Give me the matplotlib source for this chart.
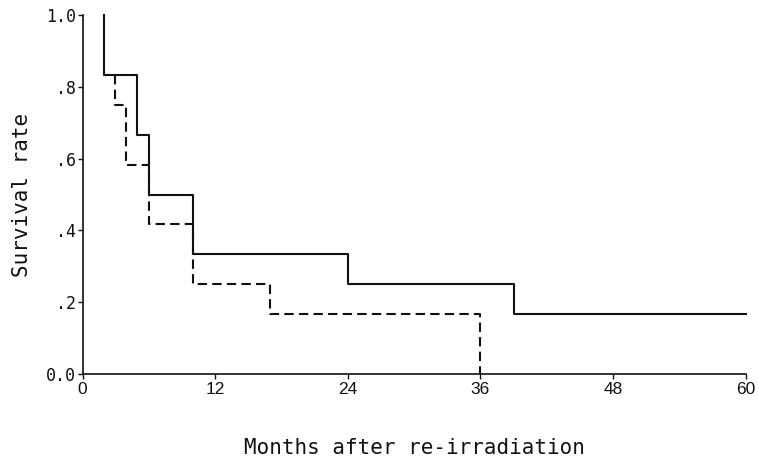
import numpy as np
import matplotlib
matplotlib.use("Agg")
import matplotlib.pyplot as plt

# ── survival curves (months, survival rate) ─────────────────────────────
solid_t = [1.9, 1.9, 4.9, 4.9, 6.0, 6.0, 10.0, 10.0, 24.0, 24.0, 39.0, 39.0, 60.0]
solid_s = [1.0, 0.833, 0.833, 0.667, 0.667, 0.5, 0.5, 0.333, 0.333, 0.25, 0.25, 0.167, 0.167]

dash_t = [2.9, 2.9, 3.9, 3.9, 6.0, 6.0, 10.0, 10.0, 17.0, 17.0, 36.0, 36.0]
dash_s = [0.833, 0.75, 0.75, 0.583, 0.583, 0.417, 0.417, 0.25, 0.25, 0.167, 0.167, 0.0]

x_ticks = [0, 12, 24, 36, 48, 60]
y_ticks = [0.0, 0.2, 0.4, 0.6, 0.8, 1.0]
y_tick_labels = ["0.0", ".2", ".4", ".6", ".8", "1.0"]

MONO = "DejaVu Sans Mono"
ink = "#111111"

fig = plt.figure(figsize=(7.59, 4.62), dpi=100)
ax = fig.add_axes([0.1087, 0.1905, 0.8738, 0.777])

ax.plot(solid_t, solid_s, color=ink, lw=1.5, clip_on=False)
ax.plot(dash_t, dash_s, color=ink, lw=1.5, dashes=(4.5, 2.5), clip_on=False)

ax.set_xlim(0, 60)
ax.set_ylim(0, 1.0)
for s in ["top", "right"]:
    ax.spines[s].set_visible(False)
for s in ["left", "bottom"]:
    ax.spines[s].set_linewidth(1.2)
    ax.spines[s].set_color(ink)

ax.set_xticks(x_ticks)
ax.set_xticklabels([str(v) for v in x_ticks], fontsize=12.5,
                   family="Liberation Sans")
ax.set_yticks(y_ticks)
ax.set_yticklabels(y_tick_labels, fontsize=12, family=MONO)
ax.tick_params(axis="both", direction="out", length=3.5, width=1.0,
               color=ink, labelcolor=ink)
ax.tick_params(axis="y", pad=1)
ax.tick_params(axis="x", pad=2)

ax.set_xlabel("Months after re-irradiation", fontsize=15, family=MONO,
              labelpad=30, color=ink)
ax.set_ylabel("Survival rate", fontsize=15, family=MONO,
              labelpad=10, color=ink)

fig.savefig("out.png", dpi=100)
